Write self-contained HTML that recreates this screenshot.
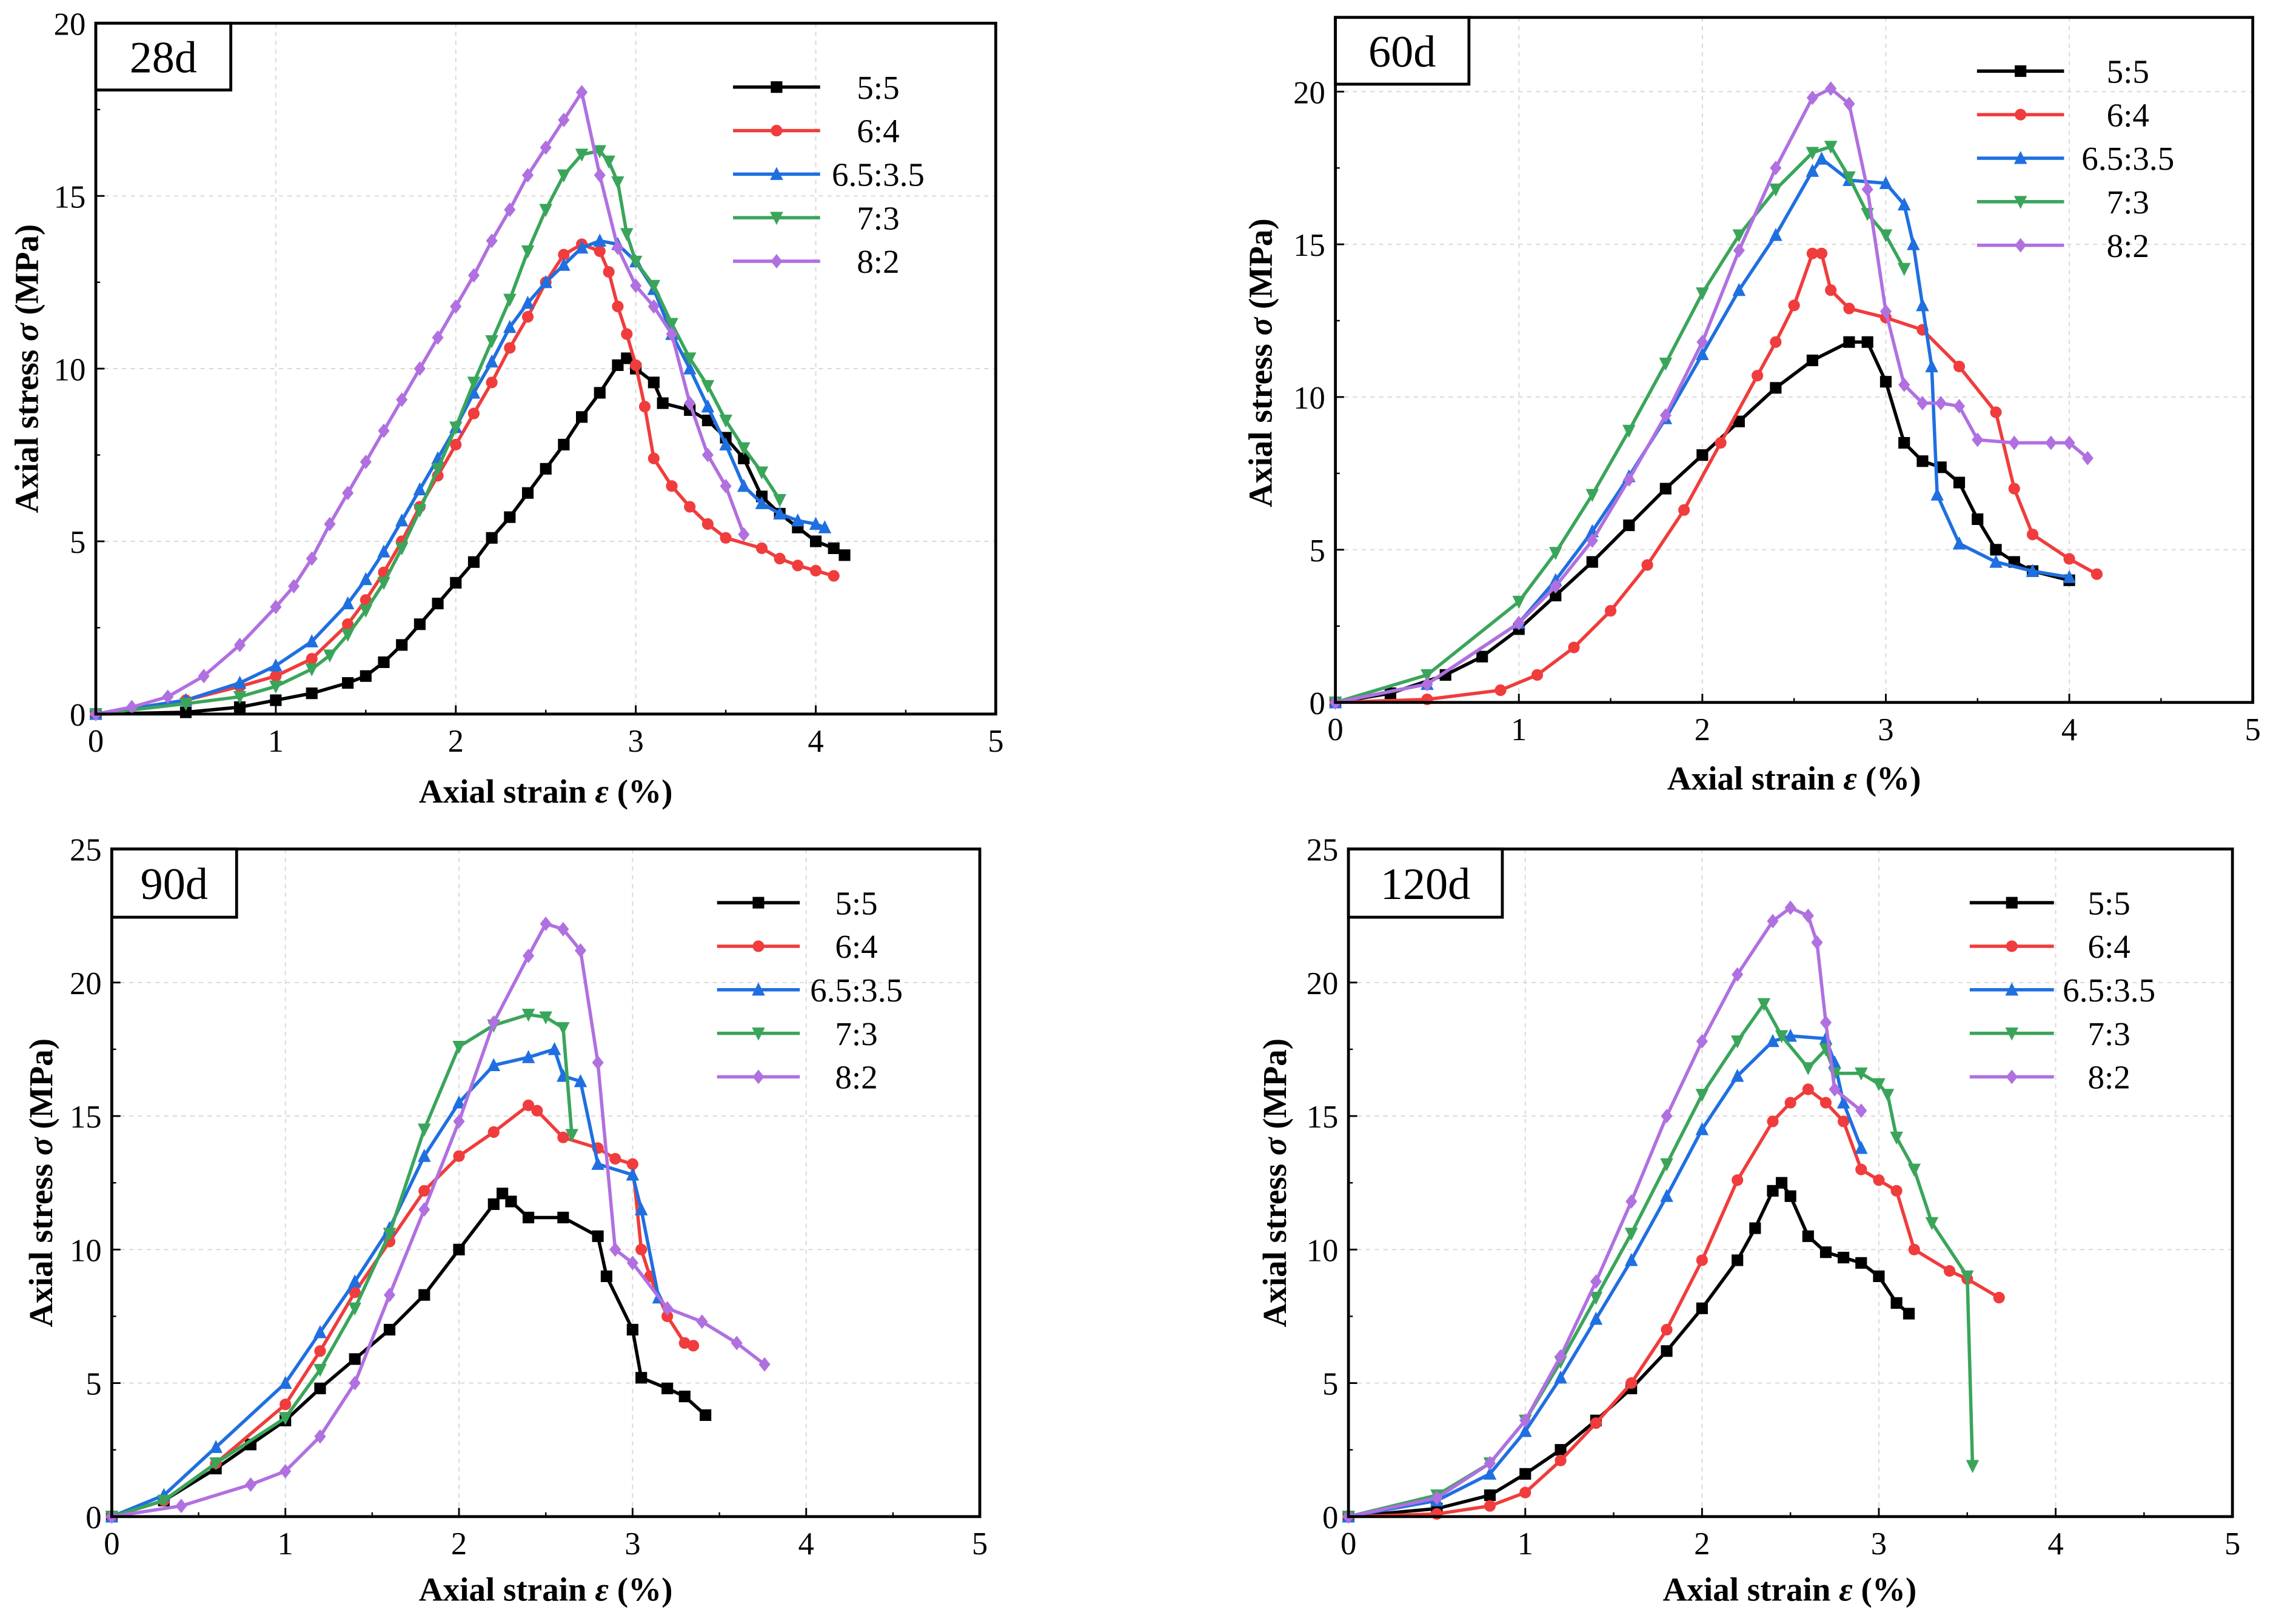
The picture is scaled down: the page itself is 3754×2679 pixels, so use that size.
<!DOCTYPE html>
<html><head><meta charset="utf-8"><style>
html,body{margin:0;padding:0;background:#fff;}
svg{display:block;font-family:"Liberation Serif",serif;}
</style></head><body>
<svg id="chart" width="3754" height="2679" viewBox="0 0 1568 1119" xmlns="http://www.w3.org/2000/svg"></svg>
<script>
const seriesNames = ["5:5","6:4","6.5:3.5","7:3","8:2"];
const seriesColors = ["#000000","#f03c3c","#1f6fe0","#3aa55a","#b070e0"];
const panelTitles = ["28d","60d","90d","120d"];
const xTicks = [0,1,2,3,4,5];
const yTicks28 = [0,5,10,15,20];
const yTicks60 = [0,5,10,15,20];
const yTicks90 = [0,5,10,15,20,25];
const yTicks120 = [0,5,10,15,20,25];

const d28_55 = [[0,0],[0.5,0.05],[0.8,0.2],[1,0.4],[1.2,0.6],[1.4,0.9],[1.5,1.1],[1.6,1.5],[1.7,2.0],[1.8,2.6],[1.9,3.2],[2.0,3.8],[2.1,4.4],[2.2,5.1],[2.3,5.7],[2.4,6.4],[2.5,7.1],[2.6,7.8],[2.7,8.6],[2.8,9.3],[2.9,10.1],[2.95,10.3],[3.0,10.0],[3.1,9.6],[3.15,9.0],[3.3,8.8],[3.4,8.5],[3.5,8.0],[3.6,7.4],[3.7,6.3],[3.8,5.8],[3.9,5.4],[4.0,5.0],[4.1,4.8],[4.16,4.6]];
const d28_64 = [[0,0],[0.5,0.4],[0.8,0.8],[1.0,1.1],[1.2,1.6],[1.4,2.6],[1.5,3.3],[1.6,4.1],[1.7,5.0],[1.8,6.0],[1.9,6.9],[2.0,7.8],[2.1,8.7],[2.2,9.6],[2.3,10.6],[2.4,11.5],[2.5,12.5],[2.6,13.3],[2.7,13.6],[2.8,13.4],[2.85,12.8],[2.9,11.8],[2.95,11.0],[3.0,10.1],[3.05,8.9],[3.1,7.4],[3.2,6.6],[3.3,6.0],[3.4,5.5],[3.5,5.1],[3.7,4.8],[3.8,4.5],[3.9,4.3],[4.0,4.15],[4.1,4.0]];
const d28_6535 = [[0,0],[0.5,0.4],[0.8,0.9],[1.0,1.4],[1.2,2.1],[1.4,3.2],[1.5,3.9],[1.6,4.7],[1.7,5.6],[1.8,6.5],[1.9,7.4],[2.0,8.3],[2.1,9.3],[2.2,10.2],[2.3,11.2],[2.4,11.9],[2.5,12.5],[2.6,13.0],[2.7,13.5],[2.8,13.7],[2.9,13.6],[3.0,13.1],[3.1,12.3],[3.2,11.0],[3.3,10.0],[3.4,8.9],[3.5,7.8],[3.6,6.6],[3.7,6.1],[3.8,5.8],[3.9,5.6],[4.0,5.5],[4.05,5.4]];
const d28_73 = [[0,0],[0.5,0.3],[0.8,0.5],[1.0,0.8],[1.2,1.3],[1.3,1.7],[1.4,2.3],[1.5,3.0],[1.6,3.8],[1.7,4.8],[1.8,5.9],[1.9,7.1],[2.0,8.3],[2.1,9.6],[2.2,10.8],[2.3,12.0],[2.4,13.4],[2.5,14.6],[2.6,15.6],[2.7,16.2],[2.8,16.3],[2.85,16.0],[2.9,15.4],[2.95,13.9],[3.0,13.1],[3.1,12.4],[3.2,11.3],[3.3,10.3],[3.4,9.5],[3.5,8.5],[3.6,7.7],[3.7,7.0],[3.8,6.2]];
const d28_82 = [[0,0],[0.2,0.2],[0.4,0.5],[0.6,1.1],[0.8,2.0],[1.0,3.1],[1.1,3.7],[1.2,4.5],[1.3,5.5],[1.4,6.4],[1.5,7.3],[1.6,8.2],[1.7,9.1],[1.8,10.0],[1.9,10.9],[2.0,11.8],[2.1,12.7],[2.2,13.7],[2.3,14.6],[2.4,15.6],[2.5,16.4],[2.6,17.2],[2.7,18.0],[2.8,15.6],[2.9,13.5],[3.0,12.4],[3.1,11.8],[3.2,11.0],[3.3,9.0],[3.4,7.5],[3.5,6.6],[3.6,5.2]];

const d60_55 = [[0,0],[0.3,0.3],[0.6,0.9],[0.8,1.5],[1.0,2.4],[1.2,3.5],[1.4,4.6],[1.6,5.8],[1.8,7.0],[2.0,8.1],[2.2,9.2],[2.4,10.3],[2.6,11.2],[2.8,11.8],[2.9,11.8],[3.0,10.5],[3.1,8.5],[3.2,7.9],[3.3,7.7],[3.4,7.2],[3.5,6.0],[3.6,5.0],[3.7,4.6],[3.8,4.3],[4.0,4.0]];
const d60_64 = [[0,0],[0.5,0.1],[0.9,0.4],[1.1,0.9],[1.3,1.8],[1.5,3.0],[1.7,4.5],[1.9,6.3],[2.1,8.5],[2.3,10.7],[2.4,11.8],[2.5,13.0],[2.6,14.7],[2.65,14.7],[2.7,13.5],[2.8,12.9],[3.0,12.6],[3.2,12.2],[3.4,11.0],[3.6,9.5],[3.7,7.0],[3.8,5.5],[4.0,4.7],[4.15,4.2]];
const d60_6535 = [[0,0],[0.5,0.6],[1.0,2.6],[1.2,4.0],[1.4,5.6],[1.6,7.4],[1.8,9.3],[2.0,11.4],[2.2,13.5],[2.4,15.3],[2.6,17.4],[2.65,17.8],[2.8,17.1],[3.0,17.0],[3.1,16.3],[3.15,15.0],[3.2,13.0],[3.25,11.0],[3.28,6.8],[3.4,5.2],[3.6,4.6],[3.8,4.3],[4.0,4.1]];
const d60_73 = [[0,0],[0.5,0.9],[1.0,3.3],[1.2,4.9],[1.4,6.8],[1.6,8.9],[1.8,11.1],[2.0,13.4],[2.2,15.3],[2.4,16.8],[2.6,18.0],[2.7,18.2],[2.8,17.2],[2.9,16.0],[3.0,15.3],[3.1,14.2]];
const d60_82 = [[0,0],[0.5,0.6],[1.0,2.6],[1.2,3.8],[1.4,5.3],[1.6,7.3],[1.8,9.4],[2.0,11.8],[2.2,14.8],[2.4,17.5],[2.6,19.8],[2.7,20.1],[2.8,19.6],[2.9,16.8],[3.0,12.8],[3.1,10.4],[3.2,9.8],[3.3,9.8],[3.4,9.7],[3.5,8.6],[3.7,8.5],[3.9,8.5],[4.0,8.5],[4.1,8.0]];

const d90_55 = [[0,0],[0.3,0.6],[0.6,1.8],[0.8,2.7],[1.0,3.6],[1.2,4.8],[1.4,5.9],[1.6,7.0],[1.8,8.3],[2.0,10.0],[2.2,11.7],[2.25,12.1],[2.3,11.8],[2.4,11.2],[2.6,11.2],[2.8,10.5],[2.85,9.0],[3.0,7.0],[3.05,5.2],[3.2,4.8],[3.3,4.5],[3.42,3.8]];
const d90_64 = [[0,0],[0.3,0.6],[0.6,2.0],[1.0,4.2],[1.2,6.2],[1.4,8.4],[1.6,10.3],[1.8,12.2],[2.0,13.5],[2.2,14.4],[2.4,15.4],[2.45,15.2],[2.6,14.2],[2.8,13.8],[2.9,13.4],[3.0,13.2],[3.05,10.0],[3.1,9.0],[3.2,7.5],[3.3,6.5],[3.35,6.4]];
const d90_6535 = [[0,0],[0.3,0.8],[0.6,2.6],[1.0,5.0],[1.2,6.9],[1.4,8.8],[1.6,10.8],[1.8,13.5],[2.0,15.5],[2.2,16.9],[2.4,17.2],[2.55,17.5],[2.6,16.5],[2.7,16.3],[2.8,13.2],[3.0,12.8],[3.05,11.5],[3.15,8.2]];
const d90_73 = [[0,0],[0.3,0.6],[0.6,2.0],[1.0,3.7],[1.2,5.5],[1.4,7.8],[1.6,10.6],[1.8,14.5],[2.0,17.6],[2.2,18.4],[2.4,18.8],[2.5,18.7],[2.6,18.3],[2.65,14.3]];
const d90_82 = [[0,0],[0.4,0.4],[0.8,1.2],[1.0,1.7],[1.2,3.0],[1.4,5.0],[1.6,8.3],[1.8,11.5],[2.0,14.8],[2.2,18.5],[2.4,21.0],[2.5,22.2],[2.6,22.0],[2.7,21.2],[2.8,17.0],[2.9,10.0],[3.0,9.5],[3.2,7.8],[3.4,7.3],[3.6,6.5],[3.76,5.7]];

const d120_55 = [[0,0],[0.5,0.3],[0.8,0.8],[1.0,1.6],[1.2,2.5],[1.4,3.6],[1.6,4.8],[1.8,6.2],[2.0,7.8],[2.2,9.6],[2.3,10.8],[2.4,12.2],[2.45,12.5],[2.5,12.0],[2.6,10.5],[2.7,9.9],[2.8,9.7],[2.9,9.5],[3.0,9.0],[3.1,8.0],[3.17,7.6]];
const d120_64 = [[0,0],[0.5,0.1],[0.8,0.4],[1.0,0.9],[1.2,2.1],[1.4,3.5],[1.6,5.0],[1.8,7.0],[2.0,9.6],[2.2,12.6],[2.4,14.8],[2.5,15.5],[2.6,16.0],[2.7,15.5],[2.8,14.8],[2.9,13.0],[3.0,12.6],[3.1,12.2],[3.2,10.0],[3.4,9.2],[3.5,8.9],[3.68,8.2]];
const d120_6535 = [[0,0],[0.5,0.6],[0.8,1.6],[1.0,3.2],[1.2,5.2],[1.4,7.4],[1.6,9.6],[1.8,12.0],[2.0,14.5],[2.2,16.5],[2.4,17.8],[2.5,18.0],[2.7,17.9],[2.75,17.0],[2.8,15.5],[2.9,13.8]];
const d120_73 = [[0,0],[0.5,0.8],[0.8,2.0],[1.0,3.6],[1.2,5.8],[1.4,8.2],[1.6,10.6],[1.8,13.2],[2.0,15.8],[2.2,17.8],[2.35,19.2],[2.45,18.0],[2.6,16.8],[2.7,17.5],[2.75,16.6],[2.9,16.6],[3.0,16.2],[3.05,15.8],[3.1,14.2],[3.2,13.0],[3.3,11.0],[3.5,9.0],[3.53,1.9]];
const d120_82 = [[0,0],[0.5,0.7],[0.8,2.0],[1.0,3.6],[1.2,6.0],[1.4,8.8],[1.6,11.8],[1.8,15.0],[2.0,17.8],[2.2,20.3],[2.4,22.3],[2.5,22.8],[2.6,22.5],[2.65,21.5],[2.7,18.5],[2.75,16.0],[2.9,15.2]];

const NS="http://www.w3.org/2000/svg";
const svg=document.getElementById('chart');
function mk(tag,attrs,parent){const e=document.createElementNS(NS,tag);for(const k in attrs)e.setAttribute(k,attrs[k]);(parent||svg).appendChild(e);return e;}

const panels=[
 {title:panelTitles[0],data:[d28_55,d28_64,d28_6535,d28_73,d28_82],yTicks:yTicks28,x0:66,x1:686,yTop:16,yBot:492,yMax:20,tag:[66,16,93,46],leg:[505,565,605,60],xt:[376,545],yt:[18,254]},
 {title:panelTitles[1],data:[d60_55,d60_64,d60_6535,d60_73,d60_82],yTicks:yTicks60,x0:920,x1:1552,yTop:12,yBot:484,yMax:22.43,tag:[920,12,92,46],leg:[1362,1422,1466,49],xt:[1236,536],yt:[868,250]},
 {title:panelTitles[2],data:[d90_55,d90_64,d90_6535,d90_73,d90_82],yTicks:yTicks90,x0:77,x1:675,yTop:585,yBot:1045,yMax:25,tag:[77,585,86,47],leg:[494,551,590,622],xt:[376,1095],yt:[28,815]},
 {title:panelTitles[3],data:[d120_55,d120_64,d120_6535,d120_73,d120_82],yTicks:yTicks120,x0:929,x1:1538,yTop:585,yBot:1045,yMax:25,tag:[929,585,106,47],leg:[1357,1415,1453,622],xt:[1233,1095],yt:[878,815]}
];

function marker(g,k,x,y,c){
  const s=4;let e;
  if(k===0){e=mk('rect',{x:x-s,y:y-s,width:2*s,height:2*s,fill:c},g);}
  else if(k===1){e=mk('circle',{cx:x,cy:y,r:s,fill:c},g);}
  else if(k===2){e=mk('polygon',{points:`${x},${y-s-1} ${x-s-0.5},${y+s} ${x+s+0.5},${y+s}`,fill:c},g);}
  else if(k===3){e=mk('polygon',{points:`${x},${y+s+1} ${x-s-0.5},${y-s} ${x+s+0.5},${y-s}`,fill:c},g);}
  else {e=mk('polygon',{points:`${x},${y-s-1} ${x+s},${y} ${x},${y+s+1} ${x-s},${y}`,fill:c},g);}
  
  
}

panels.forEach((p,pi)=>{
  const g=mk('g',{});
  
  
  const X=v=>p.x0+(v/5)*(p.x1-p.x0);
  const Y=v=>p.yBot-(v/p.yMax)*(p.yBot-p.yTop);
  xTicks.forEach(t=>{ if(t>0&&t<5){const l=mk('line',{x1:X(t),x2:X(t),y1:p.yTop,y2:p.yBot,stroke:'#d8d8d8','stroke-width':0.8,'stroke-dasharray':'3,3'},g);}});
  p.yTicks.forEach(t=>{ if(t>0&&Y(t)>p.yTop+1){const l=mk('line',{x1:p.x0,x2:p.x1,y1:Y(t),y2:Y(t),stroke:'#d8d8d8','stroke-width':0.8,'stroke-dasharray':'3,3'},g);}});
  xTicks.forEach(t=>{
    mk('line',{x1:X(t),x2:X(t),y1:p.yBot,y2:p.yBot-6,stroke:'#000','stroke-width':1.2},g);
    if(t<5) mk('line',{x1:X(t+0.5),x2:X(t+0.5),y1:p.yBot,y2:p.yBot-3,stroke:'#000','stroke-width':1},g);
    const tx=mk('text',{x:X(t),y:p.yBot+26,'font-size':22,'text-anchor':'middle',fill:'#000'},g);
    tx.textContent=t;
    
    
  });
  p.yTicks.forEach(t=>{
    mk('line',{x1:p.x0,x2:p.x0+6,y1:Y(t),y2:Y(t),stroke:'#000','stroke-width':1.2},g);
    if(Y(t+2.5)>p.yTop) mk('line',{x1:p.x0,x2:p.x0+3,y1:Y(t+2.5),y2:Y(t+2.5),stroke:'#000','stroke-width':1},g);
    const ty=mk('text',{x:p.x0-7,y:Y(t)+8,'font-size':22,'text-anchor':'end',fill:'#000'},g);
    ty.textContent=t;
    
    
  });
  p.data.forEach((arr,si)=>{
    const sg=mk('g',{},g);
    
    
    const pl=mk('polyline',{points:arr.map(d=>X(d[0])+','+Y(d[1])).join(' '),fill:'none',stroke:seriesColors[si],'stroke-width':2.3,'stroke-linejoin':'round'},sg);
    
    
    arr.forEach(d=>marker(sg,si,X(d[0]),Y(d[1]),seriesColors[si]));
  });
  const fr=mk('rect',{x:p.x0,y:p.yTop,width:p.x1-p.x0,height:p.yBot-p.yTop,fill:'none',stroke:'#000','stroke-width':2},g);
  
  
  const tb=mk('rect',{x:p.tag[0],y:p.tag[1],width:p.tag[2],height:p.tag[3],fill:'#fff',stroke:'#000','stroke-width':2},g);
  
  
  const tt=mk('text',{x:p.tag[0]+p.tag[2]/2,y:p.tag[1]+p.tag[3]/2+11,'font-size':31,'text-anchor':'middle',fill:'#000'},g);
  tt.textContent=p.title;
  
  
  seriesNames.forEach((n,si)=>{
    const ly=p.leg[3]+si*30;
    const lg=mk('g',{},g);
    
    
    mk('line',{x1:p.leg[0],x2:p.leg[1],y1:ly,y2:ly,stroke:seriesColors[si],'stroke-width':2.3},lg);
    marker(lg,si,(p.leg[0]+p.leg[1])/2,ly,seriesColors[si]);
    const lt=mk('text',{x:p.leg[2],y:ly+8,'font-size':23,'text-anchor':'middle',fill:'#000'},lg);
    lt.textContent=n;
  });
  const xt=mk('text',{x:p.xt[0],y:p.xt[1]+8,'font-size':23,'font-weight':'bold','text-anchor':'middle',fill:'#000'},g);
  xt.innerHTML='Axial strain <tspan font-style="italic">ε</tspan> (%)';
  
  
  const yt=mk('text',{x:0,y:0,'font-size':23,'font-weight':'bold','text-anchor':'middle',fill:'#000',transform:`translate(${p.yt[0]+8},${p.yt[1]}) rotate(-90)`},g);
  yt.innerHTML='Axial stress <tspan font-style="italic">σ</tspan> (MPa)';
  
  
});
</script>
</body></html>
